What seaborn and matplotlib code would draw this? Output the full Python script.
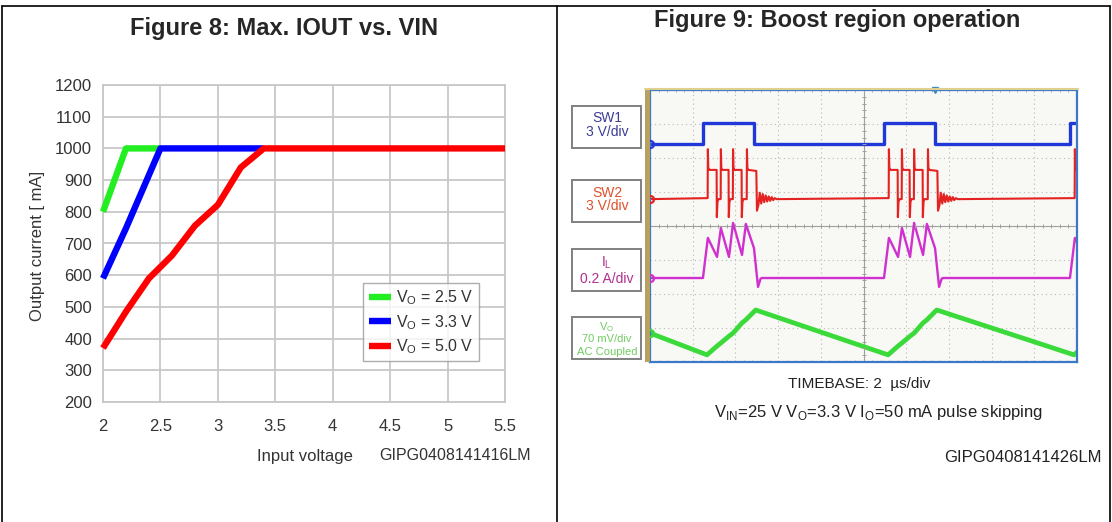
import numpy as np
import pandas as pd
import matplotlib
matplotlib.use("Agg")
import matplotlib.pyplot as plt
import seaborn as sns
from matplotlib.patches import Rectangle
from matplotlib.lines import Line2D

# ---- Figure 8: max output current vs input voltage ----
vin_25 = [2.0, 2.2, 2.5]
iout_25 = [800, 1000, 1000]
vin_33 = [2.0, 2.2, 2.5, 3.4]
iout_33 = [590, 748, 1000, 1000]
vin_50 = [2.0, 2.2, 2.4, 2.6, 2.8, 3.0, 3.2, 3.4, 5.5]
iout_50 = [370, 485, 590, 662, 756, 822, 940, 1000, 1000]
series_labels = [r"V$_\mathregular{O}$ = 2.5 V", r"V$_\mathregular{O}$ = 3.3 V",
                 r"V$_\mathregular{O}$ = 5.0 V"]
series_colors = ["#22ee22", "#0000ff", "#ff0000"]
x_ticks = [2, 2.5, 3, 3.5, 4, 4.5, 5, 5.5]
x_tick_labels = ["2", "2.5", "3", "3.5", "4", "4.5", "5", "5.5"]
y_ticks = [200, 300, 400, 500, 600, 700, 800, 900, 1000, 1100, 1200]

# ---- Figure 9: scope capture (time in us, vertical in divisions) ----
burst_start = [2.48, 10.96, 19.67]      # SW1 rising edges
sw1_low, sw1_high, sw1_width = 2.41, 3.03, 2.4
sw2_base = 0.79
sw2_offs = [0.22, 0.23, 0.25, 0.30, 0.64, 0.65, 0.68, 0.72,
            0.83, 0.84, 0.86, 0.90, 1.20, 1.21, 1.24, 1.28,
            1.40, 1.41, 1.43, 1.47, 1.81, 1.82, 1.85, 1.89,
            2.05, 2.06, 2.08, 2.12, 2.50, 2.53,
            2.60, 2.66, 2.73, 2.80, 2.87, 2.94, 3.01, 3.08, 3.15, 3.22, 3.29, 3.36, 3.45]
sw2_vals = [0.82, 2.26, 1.72, 1.65, 1.65, 0.26, 0.70, 0.79,
            0.79, 2.26, 1.72, 1.65, 1.65, 0.26, 0.70, 0.79,
            0.79, 2.26, 1.72, 1.65, 1.65, 0.26, 0.70, 0.79,
            0.79, 2.26, 1.72, 1.65, 1.62, 0.45,
            0.62, 0.98, 0.66, 0.94, 0.70, 0.90, 0.72, 0.87, 0.74, 0.85, 0.76, 0.82, 0.79]
il_base = -1.53
il_offs = [0.0, 0.23, 0.66, 0.84, 1.22, 1.41, 1.83, 2.01, 2.39, 2.58, 2.70, 2.76]
il_vals = [-1.53, -0.35, -0.91, -0.06, -0.91, 0.09, -0.85, 0.06, -0.65, -1.79, -1.55, -1.53]
vo_start = -3.15
vo_offs = [0.19, 0.66, 0.84, 1.22, 1.41, 1.83, 2.01, 2.47]
vo_vals = [-3.79, -3.53, -3.44, -3.24, -3.15, -2.85, -2.76, -2.47]
trace_colors = {"SW1": "#2038d8", "SW2": "#e42222", "IL": "#d030d0", "VO": "#3ada3a"}

W, H = 1112, 522
fig = plt.figure(figsize=(W / 100, H / 100), dpi=100)
sns.set_theme(style="white")
plt.rcParams["font.family"] = ["Liberation Sans", "DejaVu Sans"]
plt.rcParams["mathtext.fontset"] = "custom"
plt.rcParams["mathtext.rm"] = "Liberation Sans"


def fx(px):
    return px / W


def fy(py):
    return 1 - py / H


# panel borders
for xs, ys in [((1.5, 1110), (6, 6)), ((1.5, 1.5), (6, 522)),
               ((1110, 1110), (6, 522)), ((557, 557), (6, 522))]:
    fig.add_artist(Line2D([fx(x) for x in xs], [fy(y) for y in ys],
                          color="black", lw=1.2, transform=fig.transFigure))

# ---------------- left chart ----------------
ax = fig.add_axes([fx(103), fy(402), fx(505) - fx(103), fy(85) - fy(402)])
frames = []
for xs, ys, lab in zip([vin_25, vin_33, vin_50], [iout_25, iout_33, iout_50], series_labels):
    frames.append(pd.DataFrame({"vin": xs, "iout": ys, "series": lab}))
df = pd.concat(frames, ignore_index=True)
sns.lineplot(data=df, x="vin", y="iout", hue="series", hue_order=series_labels,
             palette=dict(zip(series_labels, series_colors)), sort=False,
             estimator=None, lw=4.6, ax=ax, zorder=3)
for ln in ax.get_lines():
    ln.set_clip_on(False)
    ln.set_solid_capstyle("butt")
ax.set_xlim(2, 5.5)
ax.set_ylim(200, 1200)
ax.set_xticks(x_ticks)
ax.set_xticklabels(x_tick_labels)
ax.set_yticks(y_ticks)
ax.grid(True, color="#c8c8c8", lw=1.3)
for sp in ax.spines.values():
    sp.set_color("#c8c8c8")
    sp.set_linewidth(1.3)
ax.tick_params(axis="both", length=4, width=1, color="#999999", labelsize=12,
               labelcolor="#333333", pad=4, direction="out")
ax.tick_params(axis="x", pad=8)
ax.set_xlabel("")
ax.set_ylabel("")
leg = ax.legend(loc="upper left", bbox_to_anchor=(fx(363), fy(283)),
                bbox_transform=fig.transFigure, borderaxespad=0, frameon=True,
                fancybox=False, edgecolor="#999999", fontsize=11.5, handlelength=1.4,
                handletextpad=0.3, labelspacing=0.35, borderpad=0.35)
leg.get_frame().set_linewidth(1.0)
for t in leg.get_texts():
    t.set_color("#333333")

fig.text(fx(284), fy(28), "Figure 8: Max. IOUT vs. VIN", ha="center", va="center",
         fontsize=17, fontweight="bold")
fig.text(fx(38), fy(246), "Output current [ mA]", rotation=90, ha="center",
         va="center", fontsize=12, color="#333333")
fig.text(fx(305), fy(456), "Input voltage", ha="center", va="center",
         fontsize=12, color="#333333")
fig.text(fx(455), fy(456), "GIPG0408141416LM", ha="center", va="center",
         fontsize=11.5, color="#333333")

# ---------------- right scope ----------------
sx = fig.add_axes([fx(650), fy(362), fx(1077) - fx(650), fy(90) - fy(362)])
sx.set_facecolor("#f8f8f4")


def build(first_t, first_v, offs, vals, last_t, last_v):
    t, v = [first_t], [first_v]
    for s in burst_start:
        t += [s + o for o in offs]
        v += list(vals)
    t.append(last_t)
    v.append(last_v)
    return t, v


sw1_t, sw1_v = build(0, sw1_low, [0, 0, sw1_width, sw1_width],
                     [sw1_low, sw1_high, sw1_high, sw1_low], 23, sw1_low)
sw2_t, sw2_v = build(0, sw2_base, sw2_offs, sw2_vals, 23.5, sw2_base)
il_t, il_v = build(0, il_base, il_offs, il_vals, 23, il_base)
vo_t, vo_v = build(0, vo_start, vo_offs, vo_vals, 22.3, vo_vals[-1])

for tt, vv, key, lw in [(vo_t, vo_v, "VO", 3.4), (il_t, il_v, "IL", 1.7),
                        (sw2_t, sw2_v, "SW2", 1.5), (sw1_t, sw1_v, "SW1", 2.4)]:
    sns.lineplot(x=tt, y=vv, sort=False, estimator=None, color=trace_colors[key],
                 lw=lw, ax=sx)

sx.set_xlim(0, 20)
sx.set_ylim(-4, 4)
sx.set_xticks(np.arange(0, 21, 2))
sx.set_yticks(np.arange(-4, 5, 1))
sx.set_xticklabels([])
sx.set_yticklabels([])
sx.tick_params(length=0)
sx.grid(True, color="#b8b8b8", lw=0.8, ls=(0, (1, 3)))
sx.axhline(0, color="#a0a0a0", lw=0.8, zorder=1)
sx.axvline(10, color="#a0a0a0", lw=0.8, zorder=1)
minor_x = np.arange(0, 20.01, 0.4)
minor_y = np.arange(-4, 4.01, 0.2)
sx.plot(minor_x, np.zeros_like(minor_x), ls="none", marker="|", ms=3,
        color="#a0a0a0", mew=0.7)
sx.plot(np.full_like(minor_y, 10), minor_y, ls="none", marker="_", ms=3,
        color="#a0a0a0", mew=0.7)
sx.plot(minor_x, np.full_like(minor_x, 4), ls="none", marker="|", ms=3,
        color="#b0b0b0", mew=0.7)
sx.plot(minor_x, np.full_like(minor_x, -4), ls="none", marker="|", ms=3,
        color="#b0b0b0", mew=0.7)
for sp in sx.spines.values():
    sp.set_color("#3a78c8")
    sp.set_linewidth(1.6)
# ground markers of the channels
for yv, key in [(sw1_low, "SW1"), (sw2_base, "SW2"), (il_base, "IL"), (vo_start, "VO")]:
    sx.plot([0], [yv], marker="o", ms=5, mfc="none", mec=trace_colors[key], mew=1.6,
            clip_on=False, zorder=5)
# trigger marker
sx.plot([burst_start[1] + sw1_width], [4], marker="v", ms=4, color="#3a88c8",
        clip_on=False, zorder=5)
fig.add_artist(Rectangle((fx(645), fy(362)), fx(650) - fx(645), fy(89) - fy(362),
                         color="#b8a060", transform=fig.transFigure, lw=0))
fig.add_artist(Line2D([fx(645), fx(1078)], [fy(89), fy(89)], color="#e0d090", lw=1.5,
                      transform=fig.transFigure))

# channel label boxes: (top, bottom, lines, text rows y, colour, size)
boxes = [(106, 148, ["SW1", "3 V/div"], [118, 132], "#3c3c96", 10),
         (180, 222, ["SW2", "3 V/div"], [193, 206], "#e0502a", 10),
         (249, 291, [r"I$_\mathregular{L}$", "0.2 A/div"], [263, 279], "#b03090", 10),
         (317, 359, [r"V$_\mathregular{O}$", "70 mV/div", "AC Coupled"], [327, 339, 352],
          "#70cc60", 8)]
for top, bot, lines, rows, col, fs in boxes:
    fig.add_artist(Rectangle((fx(572), fy(bot)), fx(641) - fx(572), fy(top) - fy(bot),
                             fill=False, ec="#808080", lw=1.4, transform=fig.transFigure))
    for s, r in zip(lines, rows):
        fig.text(fx(607), fy(r), s, ha="center", va="center", fontsize=fs, color=col)

fig.text(fx(837), fy(21), "Figure 9: Boost region operation", ha="center", va="center",
         fontsize=17, fontweight="bold")
fig.text(fx(859), fy(384), "TIMEBASE: 2  µs/div", ha="center", va="center",
         fontsize=11, color="#222222")
fig.text(fx(879), fy(413),
         r"V$_\mathregular{IN}$=25 V V$_\mathregular{O}$=3.3 V I$_\mathregular{O}$=50 mA pulse skipping",
         ha="center", va="center", fontsize=12, color="#222222")
fig.text(fx(1102), fy(458), "GIPG0408141426LM", ha="right", va="center",
         fontsize=12, color="#222222")

fig.savefig("out.png", dpi=100)
